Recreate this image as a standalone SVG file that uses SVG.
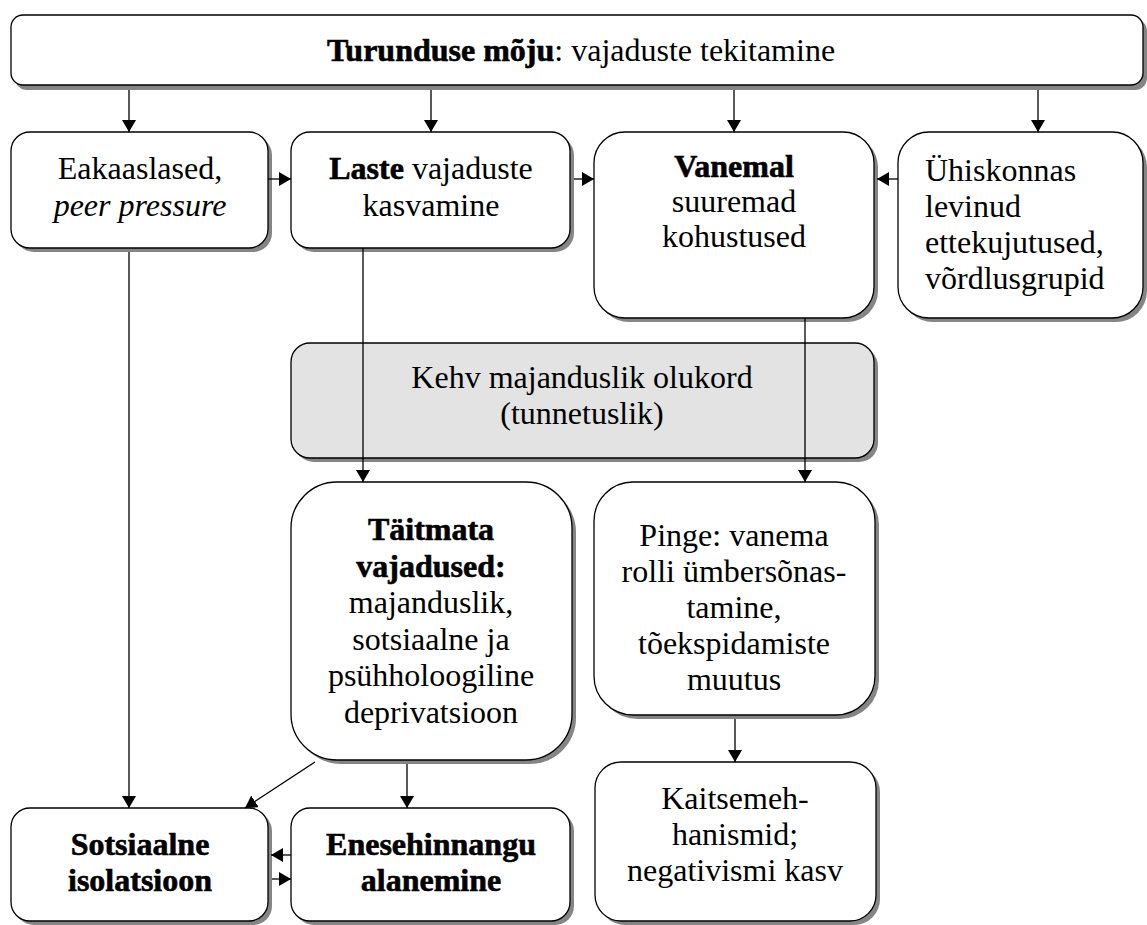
<svg xmlns="http://www.w3.org/2000/svg" width="1147" height="925" viewBox="0 0 1147 925">
<defs>
<marker id="ah" viewBox="0 0 12 14" refX="12" refY="7" markerWidth="12" markerHeight="14" orient="auto" markerUnits="userSpaceOnUse">
<path d="M0,0 L12,7 L0,14 z" fill="#000"/>
</marker>
</defs>
<style>
.sh{fill:#858585;stroke:none}
.bx{fill:#fff;stroke:#000;stroke-width:1.3}
.gr{fill:#e3e3e3;stroke:#000;stroke-width:1.3}
text{font-family:"Liberation Serif","Times New Roman",serif;font-size:32px;fill:#000}
.c{text-anchor:middle}
.b{font-weight:bold;stroke:#000;stroke-width:0.6}
.i{font-style:italic}
.cn line{stroke:#000;stroke-width:1.3;fill:none}
.ar{marker-end:url(#ah)}
</style>
<rect width="1147" height="925" fill="#fff"/>

<g id="top">
<rect class="sh" x="15" y="19" width="1132" height="71" rx="12"/>
<rect class="bx" x="11" y="15" width="1132" height="70" rx="12"/>
<text class="c" x="581" y="61"><tspan class="b">Turunduse mõju</tspan>: vajaduste tekitamine</text>
</g>

<g id="eakaaslased">
<rect class="sh" x="15" y="136" width="257" height="116" rx="19"/>
<rect class="bx" x="11" y="132" width="257" height="116" rx="19"/>
<text class="c" x="140" y="179">Eakaaslased,</text>
<text class="c i" x="140" y="216">peer pressure</text>
</g>

<g id="laste">
<rect class="sh" x="295" y="136" width="279" height="116" rx="19"/>
<rect class="bx" x="291" y="132" width="279" height="116" rx="19"/>
<text class="c" x="431" y="179"><tspan class="b">Laste</tspan> vajaduste</text>
<text class="c" x="431" y="216">kasvamine</text>
</g>

<g id="vanemal">
<rect class="sh" x="598" y="136" width="280" height="186" rx="31"/>
<rect class="bx" x="594" y="132" width="280" height="186" rx="31"/>
<text class="c b" x="734" y="177">Vanemal</text>
<text class="c" x="734" y="212">suuremad</text>
<text class="c" x="734" y="247">kohustused</text>
</g>

<g id="uhiskonnas">
<rect class="sh" x="902" y="136" width="245" height="186" rx="31"/>
<rect class="bx" x="898" y="132" width="245" height="186" rx="31"/>
<text x="925" y="181">Ühiskonnas</text>
<text x="925" y="217">levinud</text>
<text x="925" y="253">ettekujutused,</text>
<text x="925" y="289">võrdlusgrupid</text>
</g>

<g id="kehv">
<rect class="sh" x="295" y="347" width="583" height="115" rx="19"/>
<rect class="gr" x="291" y="343" width="583" height="115" rx="19"/>
<text class="c" x="582" y="388">Kehv majanduslik olukord</text>
<text class="c" x="582" y="424">(tunnetuslik)</text>
</g>

<g id="taitmata">
<rect class="sh" x="295" y="486" width="281" height="278" rx="46"/>
<rect class="bx" x="291" y="482" width="281" height="278" rx="46"/>
<text class="c b" x="431" y="540">Täitmata</text>
<text class="c b" x="431" y="577">vajadused:</text>
<text class="c" x="431" y="613">majanduslik,</text>
<text class="c" x="431" y="650">sotsiaalne ja</text>
<text class="c" x="431" y="686">psühholoogiline</text>
<text class="c" x="431" y="723">deprivatsioon</text>
</g>

<g id="pinge">
<rect class="sh" x="598" y="486" width="281" height="233" rx="39"/>
<rect class="bx" x="594" y="482" width="281" height="233" rx="39"/>
<text class="c" x="734" y="546">Pinge: vanema</text>
<text class="c" x="734" y="582">rolli ümbersõnas-</text>
<text class="c" x="734" y="618">tamine,</text>
<text class="c" x="734" y="654">tõekspidamiste</text>
<text class="c" x="734" y="690">muutus</text>
</g>

<g id="kaitse">
<rect class="sh" x="599" y="766" width="281" height="159" rx="26"/>
<rect class="bx" x="595" y="762" width="281" height="159" rx="26"/>
<text class="c" x="735" y="809">Kaitsemeh-</text>
<text class="c" x="735" y="845">hanismid;</text>
<text class="c" x="735" y="881">negativismi kasv</text>
</g>

<g id="sotsiaalne">
<rect class="sh" x="15" y="812" width="257" height="113" rx="19"/>
<rect class="bx" x="11" y="808" width="257" height="113" rx="19"/>
<text class="c b" x="140" y="855">Sotsiaalne</text>
<text class="c b" x="140" y="891">isolatsioon</text>
</g>

<g id="enesehinnangu">
<rect class="sh" x="295" y="812" width="279" height="113" rx="19"/>
<rect class="bx" x="291" y="808" width="279" height="113" rx="19"/>
<text class="c b" x="431" y="855">Enesehinnangu</text>
<text class="c b" x="431" y="891">alanemine</text>
</g>

<g id="connectors" class="cn">
<line class="ar" x1="129" y1="90" x2="129" y2="132"/>
<line class="ar" x1="431" y1="90" x2="431" y2="132"/>
<line class="ar" x1="734" y1="90" x2="734" y2="132"/>
<line class="ar" x1="1038" y1="90" x2="1038" y2="132"/>
<line class="ar" x1="268" y1="179" x2="291" y2="179"/>
<line class="ar" x1="574" y1="179" x2="594" y2="179"/>
<line class="ar" x1="898" y1="179" x2="877" y2="179"/>
<line class="ar" x1="129" y1="252" x2="129" y2="808"/>
<line class="ar" x1="363" y1="248" x2="363" y2="482"/>
<line class="ar" x1="805" y1="318" x2="805" y2="482"/>
<line class="ar" x1="735" y1="719" x2="735" y2="762"/>
<line class="ar" x1="407" y1="764" x2="407" y2="808"/>
<line class="ar" x1="315" y1="762" x2="245" y2="808"/>
<line class="ar" x1="291" y1="855" x2="271" y2="855"/>
<line class="ar" x1="272" y1="879" x2="291" y2="879"/>
</g>
</svg>
